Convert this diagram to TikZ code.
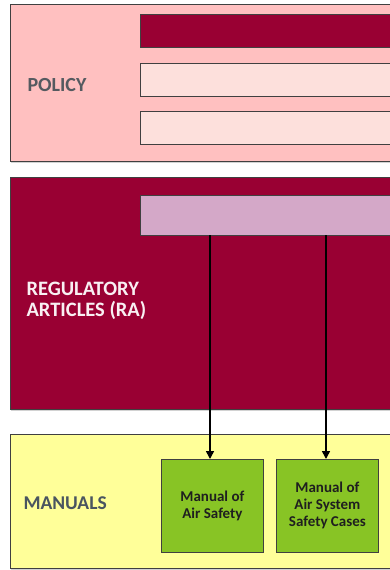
\documentclass[tikz,border=0pt]{standalone}
\usepackage{fontspec}
\setmainfont{Carlito}
\usetikzlibrary{arrows.meta,shadows}
\definecolor{policybg}{HTML}{FFC0C0}
\definecolor{wine}{HTML}{990033}
\definecolor{palerose}{HTML}{FDE0DC}
\definecolor{lilac}{HTML}{D4A8C8}
\definecolor{paleyellow}{HTML}{FFFF99}
\definecolor{leaf}{HTML}{88C425}
\definecolor{edge}{HTML}{404040}
\definecolor{greylabel}{HTML}{555A60}
\definecolor{slatelabel}{HTML}{4A5560}
\tikzset{
  band/.style={draw=edge, line width=0.8pt, drop shadow={opacity=0.35, shadow xshift=1pt, shadow yshift=-2pt}},
  bar/.style={draw=edge, line width=0.8pt},
  manual/.style={draw=edge, line width=0.8pt, fill=leaf, minimum width=102pt, minimum height=93pt,
    inner sep=0pt, align=center, font=\bfseries\fontsize{15}{17}\selectfont, text=black!88},
  bandlabel/.style={anchor=west, align=left, font=\bfseries\fontsize{20}{21}\selectfont},
  link/.style={line width=1.5pt, -{Triangle[length=8pt,width=8pt]}}
}
\begin{document}
\begin{tikzpicture}[x=1pt, y=-1pt]
\useasboundingbox (0,0) rectangle (390,570);
\fill[white] (0,0) rectangle (390,570);
\clip (0,0) rectangle (390,570);

% policy band
\path[band, fill=policybg] (10,4) rectangle (400,161);
\path[bar, fill=wine] (140,14) rectangle (400,47);
\path[bar, fill=palerose] (140,63) rectangle (400,96);
\path[bar, fill=palerose] (140,111) rectangle (400,144);
\node[bandlabel, text=greylabel] (policy) at (24,85) {POLICY};

% regulatory articles band
\path[band, fill=wine] (10,177) rectangle (400,409);
\node[bar, fill=lilac, anchor=north west, minimum width=260pt, minimum height=40pt, inner sep=0pt] (ra) at (140,195) {};
\node[bandlabel, text=white!94!wine, font=\bfseries\fontsize{20.5}{21.5}\selectfont] (ralabel) at (23,301) {REGULATORY\\[-1pt]ARTICLES (RA)};

% manuals band
\path[band, fill=paleyellow] (10,434) rectangle (400,568);
\node[bandlabel, text=slatelabel, font=\bfseries\fontsize{19.5}{21}\selectfont] (manuals) at (20,503) {MANUALS};
\node[manual, anchor=north west] (mas) at (161,459) {Manual of\\Air Safety};
\node[manual, anchor=north west] (mascs) at (276,459) {Manual of\\Air System\\Safety Cases};

% links from the RA bar down to the manuals
\coordinate (ra1) at (210,235);
\coordinate (ra2) at (326,235);
\draw[link] (ra1) -- (ra1 |- mas.north);
\draw[link] (ra2) -- (ra2 |- mascs.north);
\end{tikzpicture}
\end{document}
